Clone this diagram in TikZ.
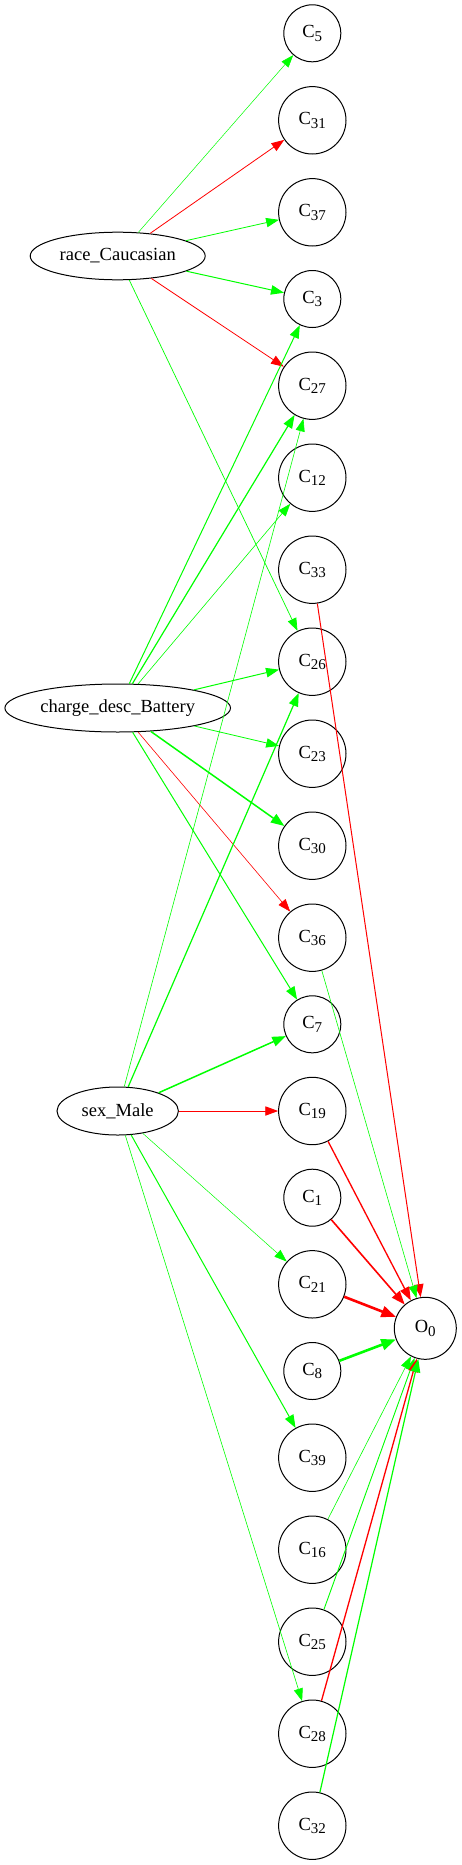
\documentclass[tikz,border=0pt]{standalone}
\usepackage{fontspec}
\setmainfont{Liberation Serif}
\usetikzlibrary{shapes.geometric,arrows.meta}
\definecolor{gpos}{RGB}{0,255,0}
\definecolor{gneg}{RGB}{255,0,0}
\newcommand\clab[2]{#1\raisebox{-3.3pt}{\fontsize{15}{15}\selectfont #2}}
\begin{document}
\begin{tikzpicture}[x=1pt,y=-1pt,
  every node/.style={font=\fontsize{18.5}{20}\selectfont},
  feat/.style={draw, ellipse, line width=1pt, inner sep=0pt},
  sm/.style={draw, circle, line width=1pt, minimum size=57pt, inner sep=0pt},
  bg/.style={draw, circle, line width=1pt, minimum size=67.4pt, inner sep=0pt},
  ed/.style={-{Triangle[length=12pt 1, width=8.5pt 1]}, line join=miter},
  pe/.style={ed, draw=gpos, line width=#1pt},
  ne/.style={ed, draw=gneg, line width=#1pt}
]
\useasboundingbox (0,0) rectangle (462,1865);
% feature nodes
\node[feat, minimum width=175pt, minimum height=47.6pt] (race) at (117.7,256) {race\_Caucasian};
\node[feat, minimum width=225.6pt, minimum height=48pt] (charge) at (117.7,708) {charge\_desc\_Battery};
\node[feat, minimum width=121.4pt, minimum height=48pt] (sex) at (117.7,1111) {sex\_Male};
% concept nodes
\node[sm] (c5)  at (312.3,33.3)   {\clab{C}{5}};
\node[bg] (c31) at (312.3,120.3)  {\clab{C}{31}};
\node[bg] (c37) at (312.3,212.3)  {\clab{C}{37}};
\node[sm] (c3)  at (312.3,299)    {\clab{C}{3}};
\node[bg] (c27) at (312.3,385.7)  {\clab{C}{27}};
\node[bg] (c12) at (312.3,477.7)  {\clab{C}{12}};
\node[bg] (c33) at (312.3,569.7)  {\clab{C}{33}};
\node[bg] (c26) at (312.3,661.7)  {\clab{C}{26}};
\node[bg] (c23) at (312.3,753.7)  {\clab{C}{23}};
\node[bg] (c30) at (312.3,845.7)  {\clab{C}{30}};
\node[bg] (c36) at (312.3,937.7)  {\clab{C}{36}};
\node[sm] (c7)  at (312.3,1024.3) {\clab{C}{7}};
\node[bg] (c19) at (312.3,1111)   {\clab{C}{19}};
\node[sm] (c1)  at (312.3,1197.7) {\clab{C}{1}};
\node[bg] (c21) at (312.3,1284.3) {\clab{C}{21}};
\node[sm] (c8)  at (312.3,1371)   {\clab{C}{8}};
\node[bg] (c39) at (312.3,1457.7) {\clab{C}{39}};
\node[bg] (c16) at (312.3,1549.7) {\clab{C}{16}};
\node[bg] (c25) at (312.3,1641.7) {\clab{C}{25}};
\node[bg] (c28) at (312.3,1733.7) {\clab{C}{28}};
\node[bg] (c32) at (312.3,1825.7) {\clab{C}{32}};
% output
\node[draw, circle, line width=1pt, minimum size=62pt, inner sep=0pt] (o0) at (425.3,1328.3) {\clab{O}{0}};
% race edges
\draw[pe=0.5] (race) -- (c5);
\draw[ne=0.8] (race) -- (c31);
\draw[pe=0.8] (race) -- (c37);
\draw[pe=1.0] (race) -- (c3);
\draw[ne=0.8] (race) -- (c27);
\draw[pe=0.7] (race) -- (c26);
% charge edges
\draw[pe=1.0] (charge) -- (c3);
\draw[pe=1.2] (charge) -- (c27);
\draw[pe=0.6] (charge) -- (c12);
\draw[pe=1.0] (charge) -- (c26);
\draw[pe=0.8] (charge) -- (c23);
\draw[pe=1.5] (charge) -- (c30);
\draw[ne=0.6] (charge) -- (c36);
\draw[pe=1.0] (charge) -- (c7);
% sex edges
\draw[pe=0.6] (sex) -- (c27);
\draw[pe=1.2] (sex) -- (c26);
\draw[pe=1.5] (sex) -- (c7);
\draw[ne=0.8] (sex) -- (c19);
\draw[pe=0.5] (sex) -- (c21);
\draw[pe=1.0] (sex) -- (c39);
\draw[pe=0.6] (sex) -- (c28);
% output edges
\draw[ne=1.0] (c33) -- (o0);
\draw[pe=0.6] (c36) -- (o0);
\draw[ne=1.3] (c19) -- (o0);
\draw[ne=1.6] (c1) -- (o0);
\draw[ne=2.6] (c21) -- (o0);
\draw[pe=2.6] (c8) -- (o0);
\draw[pe=0.6] (c16) -- (o0);
\draw[pe=0.9] (c25) -- (o0);
\draw[ne=1.3] (c28) -- (o0);
\draw[pe=1.2] (c32) -- (o0);
\end{tikzpicture}
\end{document}
